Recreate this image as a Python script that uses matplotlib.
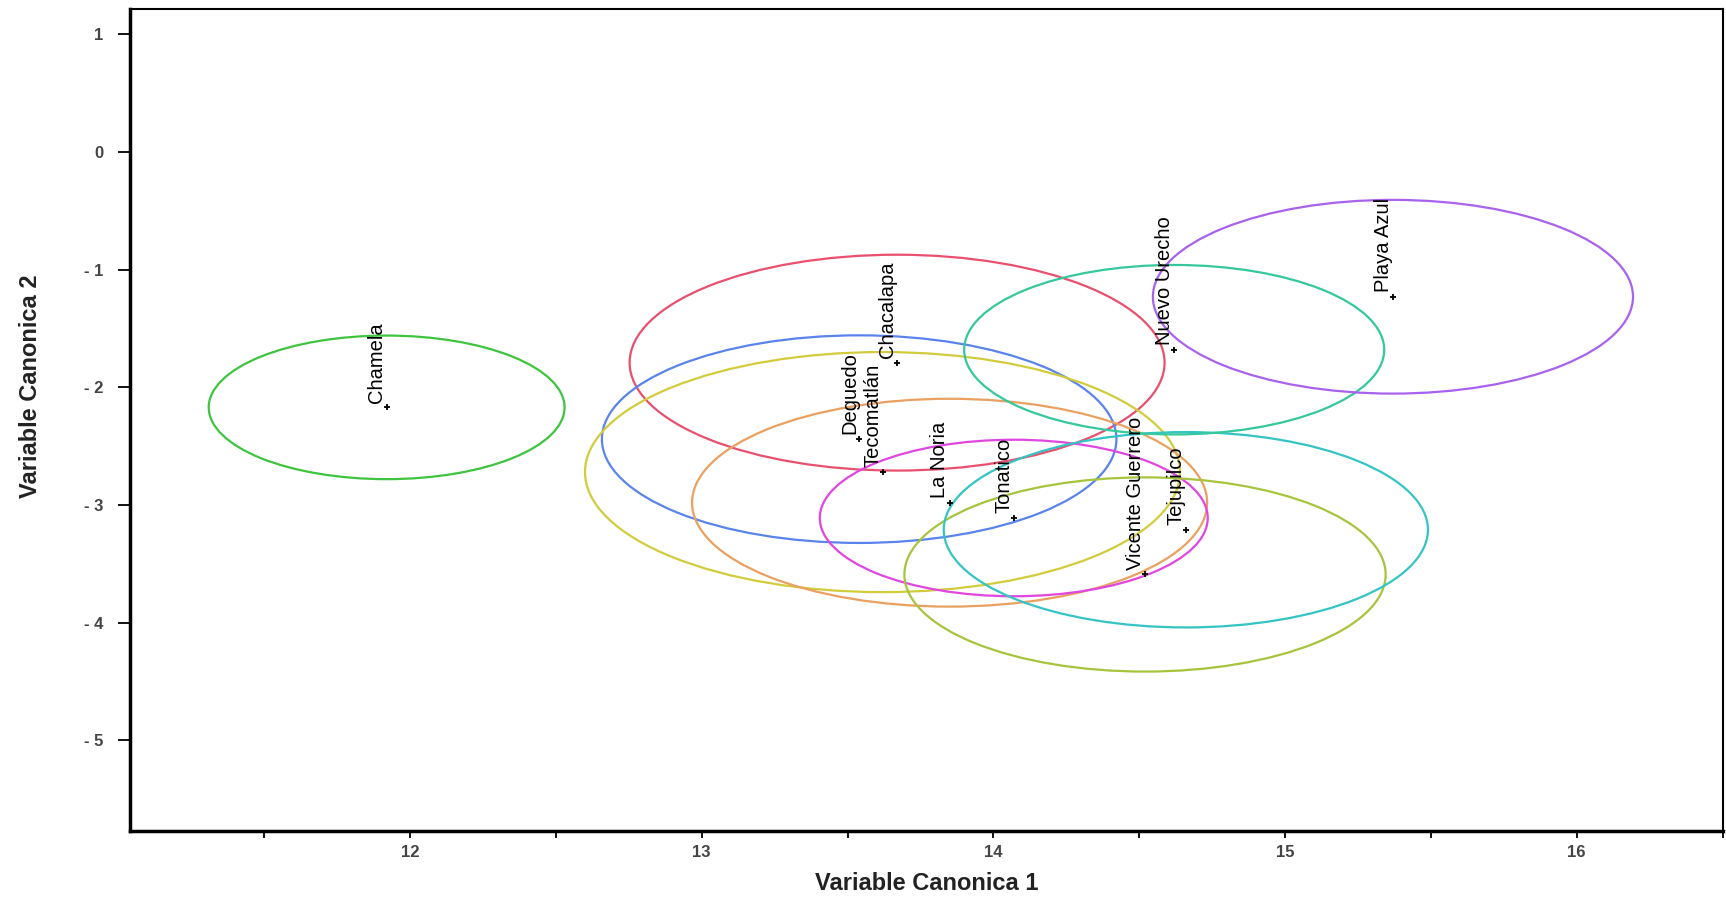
"""
elipses de confianza de las variables canonicas por localidad
"""

import matplotlib
matplotlib.use("Agg")
import matplotlib.pyplot as plt
from matplotlib.patches import Ellipse
import numpy as np

# datos
sitios = ["Chamela", "Chacalapa", "Deguedo", "Tecomatlán", "La Noria",
          "Tonatico", "Vicente Guerrero", "Tejupilco", "Nuevo Urecho", "Playa Azul"]
can1 = [11.92, 13.67, 13.54, 13.62, 13.85, 14.07, 14.52, 14.66, 14.62, 15.37]   # centro variable canonica 1
can2 = [-2.17, -1.79, -2.44, -2.72, -2.98, -3.11, -3.59, -3.21, -1.68, -1.23]   # centro variable canonica 2
radio = [0.61, 0.917, 0.882, 1.02, 0.883, 0.665, 0.825, 0.83, 0.72, 0.823]     # radio del circulo de confianza

colores = ["#3ec43e", "#e8506e", "#5a84ec", "#d2cc3c", "#eaa060",
           "#e046e0", "#a6c43c", "#34c4c4", "#34c89c", "#a862ee"]

xticks = np.arange(11.5, 16.51, 0.5)
yticks = [1, 0, -1, -2, -3, -4, -5]
ytick_labels = ["1", "0", "- 1", "- 2", "- 3", "- 4", "- 5"]

plt.rcParams["font.family"] = ["Liberation Sans", "DejaVu Sans"]

fig = plt.figure(figsize=(17.26, 8.99), dpi=100)
ax = fig.add_axes([0.0753, 0.0756, 0.9227, 0.9144])

for i in range(len(sitios)):
    elip = Ellipse((can1[i], can2[i]), 2 * radio[i], 2 * radio[i],
                   fill=False, edgecolor=colores[i], linewidth=1.6)
    ax.add_patch(elip)
    ax.plot(can1[i], can2[i], marker="+", color="black", markersize=5, markeredgewidth=1.3)
    ax.annotate(sitios[i], (can1[i], can2[i]), xytext=(-7, 3.5), textcoords="offset points",
                rotation=90, ha="center", va="bottom", fontsize=14.5, color="black")

ax.set_xlim(11.04, 16.49)
ax.set_ylim(-5.77, 1.215)

# ejes: etiquetas solo en los enteros
ax.set_xticks(xticks)
ax.set_xticklabels([str(int(t)) if t == int(t) else "" for t in xticks])
ax.set_yticks(yticks)
ax.set_yticklabels(ytick_labels)
ax.tick_params(axis="x", direction="out", length=5, width=1.3, pad=5,
               labelsize=12, labelcolor="#444444")
ax.tick_params(axis="y", direction="out", length=9, width=1.3, pad=10,
               labelsize=12, labelcolor="#444444")
for lab in ax.get_xticklabels() + ax.get_yticklabels():
    lab.set_fontweight("bold")

ax.spines["left"].set_linewidth(2.5)
ax.spines["bottom"].set_linewidth(2.5)
ax.spines["top"].set_linewidth(1.5)
ax.spines["right"].set_linewidth(1.5)

ax.set_xlabel("Variable Canonica 1", fontsize=17, fontweight="bold", color="#222222", labelpad=9)
ax.set_ylabel("Variable Canonica 2", fontsize=17, fontweight="bold", color="#222222")
ax.yaxis.set_label_coords(-0.055, 0.541)

fig.savefig("out.png", dpi=100)
